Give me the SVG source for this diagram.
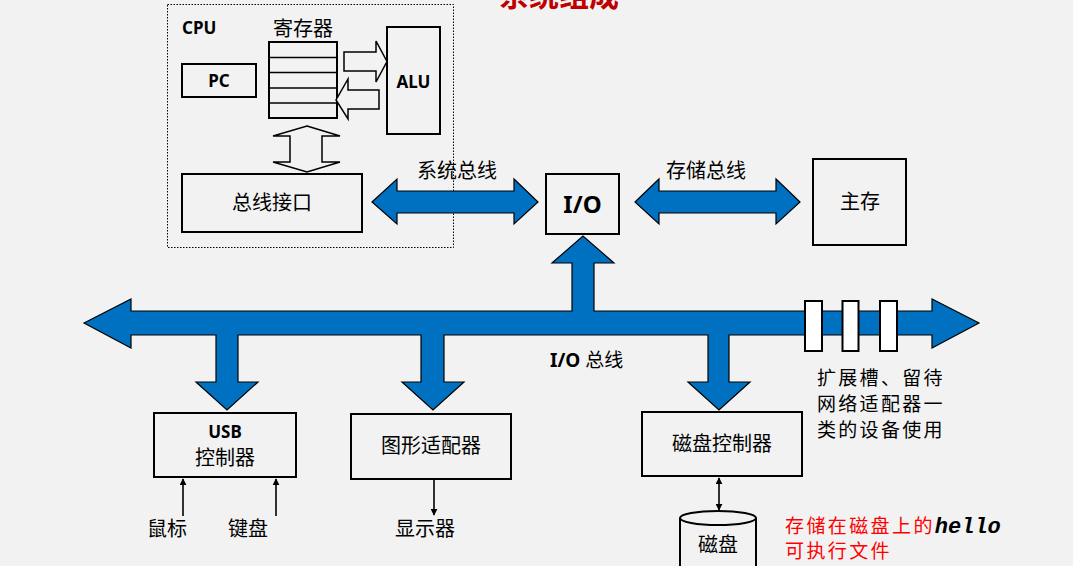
<svg xmlns="http://www.w3.org/2000/svg" width="1073" height="566" viewBox="0 0 1073 566">
<defs>
<style>
.bg{fill:#f2f2f2}
.box{fill:#f2f2f2;stroke:#000;stroke-width:2}
.bus{fill:#0070c0;stroke:#000;stroke-width:1.2;stroke-linejoin:miter}
.hollow{fill:#f2f2f2;stroke:#000;stroke-width:1.5}
.slot{fill:#fff;stroke:#000;stroke-width:2}
.ln{stroke:#000;stroke-width:1.6;fill:none}
.cj{font-family:"Noto Sans CJK SC","Noto Sans",sans-serif;fill:#000}
.lat{font-family:"Noto Sans","Open Sans","Liberation Sans",sans-serif;font-weight:bold;fill:#000}
.red{font-family:"Noto Sans CJK SC",sans-serif;fill:#ff0000}
</style>
<marker id="ah" viewBox="0 0 10 10" refX="9" refY="5" markerWidth="7" markerHeight="7" markerUnits="userSpaceOnUse" orient="auto-start-reverse">
<path d="M0,0 L10,5 L0,10 z" fill="#000"/>
</marker>
</defs>
<rect class="bg" x="0" y="0" width="1073" height="566"/>

<text id="title" x="559" y="6" text-anchor="middle" font-family="Noto Sans CJK SC, sans-serif" font-weight="bold" font-size="30" fill="#c00000">系统组成</text>

<g id="cpu">
<rect x="167.5" y="4.5" width="286" height="243" fill="none" stroke="#000" stroke-width="1" stroke-dasharray="1.5,1.5"/>
<text class="lat" x="182" y="34" font-size="17">CPU</text>
</g>

<g id="pc">
<rect class="box" x="182" y="64" width="74" height="33"/>
<text class="lat" x="219" y="87" font-size="17" text-anchor="middle">PC</text>
</g>

<g id="registers">
<text class="cj" x="303" y="36" font-size="20" text-anchor="middle">寄存器</text>
<rect class="box" x="269" y="42" width="68" height="76"/>
<line class="ln" x1="269" y1="57.5" x2="337" y2="57.5" stroke-width="2"/>
<line class="ln" x1="269" y1="72.5" x2="337" y2="72.5" stroke-width="2"/>
<line class="ln" x1="269" y1="88" x2="337" y2="88" stroke-width="2"/>
<line class="ln" x1="269" y1="103" x2="337" y2="103" stroke-width="2"/>
</g>

<g id="alu">
<rect class="box" x="387" y="27" width="53" height="107"/>
<text class="lat" x="413.5" y="88" font-size="17" text-anchor="middle">ALU</text>
</g>

<g id="bus-interface">
<rect class="box" x="182" y="174" width="180" height="58"/>
<text class="cj" x="272" y="210" font-size="20" text-anchor="middle">总线接口</text>
</g>

<g id="io">
<rect class="box" x="546" y="174" width="73" height="60"/>
<text class="lat" x="582.5" y="213" font-size="24" text-anchor="middle">I/O</text>
</g>

<g id="memory">
<rect class="box" x="813" y="159" width="93" height="86"/>
<text class="cj" x="860" y="209" font-size="20" text-anchor="middle">主存</text>
</g>

<g id="usb">
<rect class="box" x="154" y="413" width="142" height="64"/>
<text class="lat" x="225" y="438" font-size="17" text-anchor="middle">USB</text>
<text class="cj" x="225" y="465" font-size="20" text-anchor="middle">控制器</text>
</g>

<g id="graphics">
<rect class="box" x="351" y="414" width="160" height="65"/>
<text class="cj" x="431" y="453" font-size="20" text-anchor="middle">图形适配器</text>
</g>

<g id="disk-controller">
<rect class="box" x="642" y="412" width="160" height="64"/>
<text class="cj" x="722" y="451" font-size="20" text-anchor="middle">磁盘控制器</text>
</g>

<g id="disk">
<path d="M680,518 L680,570 L756,570 L756,518" class="box"/>
<ellipse cx="718" cy="518" rx="38" ry="7" class="box"/>
<text class="cj" x="718" y="552" font-size="20" text-anchor="middle">磁盘</text>
</g>

<g id="mouse"><text class="cj" x="167" y="536" font-size="20" text-anchor="middle">鼠标</text></g>
<g id="keyboard"><text class="cj" x="248" y="536" font-size="20" text-anchor="middle">键盘</text></g>
<g id="display"><text class="cj" x="425" y="536" font-size="20" text-anchor="middle">显示器</text></g>

<g id="notes">
<text class="cj" x="817" y="385" font-size="19" letter-spacing="2.3">扩展槽、留待</text>
<text class="cj" x="817" y="411" font-size="19" letter-spacing="2.3">网络适配器一</text>
<text class="cj" x="817" y="437" font-size="19" letter-spacing="2.3">类的设备使用</text>
<text class="red" x="785" y="533" font-size="19" letter-spacing="2.4">存储在磁盘上的<tspan font-family="Liberation Mono, monospace" font-weight="bold" font-style="italic" font-size="22" letter-spacing="0" fill="#000">hello</tspan></text>
<text class="red" x="785" y="558" font-size="19" letter-spacing="2.4">可执行文件</text>
</g>

<g id="connectors">
<polygon class="hollow" points="344,52 376,52 376,41 387,61.5 376,82 376,71 344,71"/>
<polygon class="hollow" points="379,90 348,90 348,79 336,100 348,119 348,109 379,109"/>
<polygon class="hollow" points="307,126 340,136 322,136 322,162 340,162 307,172 273,162 290,162 290,136 273,136"/>

<polygon class="bus" points="372,202 397,179 397,191 514,191 514,179 538,202 514,224 514,213 397,213 397,224"/>
<text class="cj" x="457" y="178" font-size="20" text-anchor="middle">系统总线</text>
<polygon class="bus" points="635,202 659,179 659,191 776,191 776,179 800,202 776,224 776,213 659,213 659,224"/>
<text class="cj" x="706" y="178" font-size="20" text-anchor="middle">存储总线</text>

<polygon class="bus" points="84,323 131,299 131,311 572,311 572,263 552,263 583,236 614,263 594,263 594,311 932,311 932,299 979,323 932,348 932,335 729,335 729,382 750,382 719,410 688,382 708,382 708,335 444,335 444,382 464,382 433,410 402,382 421,382 421,335 238,335 238,382 258,382 227,410 196,382 216,382 216,335 131,335 131,348"/>
<rect class="slot" x="805" y="301" width="17" height="50"/>
<rect class="slot" x="842.5" y="301" width="16" height="50"/>
<rect class="slot" x="880" y="301" width="17" height="50"/>
<text x="550" y="367" font-size="19"><tspan class="lat" font-size="19">I/O</tspan><tspan class="cj" dx="5">总线</tspan></text>

<line class="ln" x1="183" y1="516" x2="183" y2="479" marker-end="url(#ah)"/>
<line class="ln" x1="276" y1="516" x2="276" y2="479" marker-end="url(#ah)"/>
<line class="ln" x1="434" y1="479" x2="434" y2="515" marker-end="url(#ah)"/>
<line class="ln" x1="719" y1="478" x2="719" y2="510" marker-start="url(#ah)" marker-end="url(#ah)"/>
</g>
</svg>
